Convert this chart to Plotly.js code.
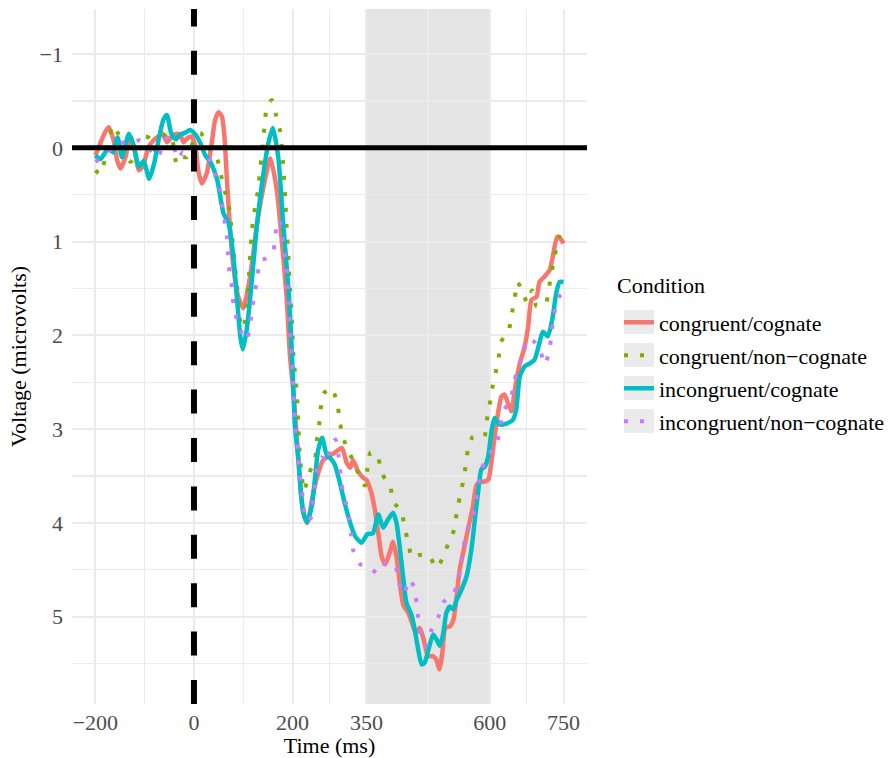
<!DOCTYPE html>
<html>
<head>
<meta charset="utf-8">
<script src="https://cdn.plot.ly/plotly-3.0.1.min.js"></script>
<style>
  html, body { margin: 0; padding: 0; background: #ffffff; }
  #erp { width: 893px; height: 758px; }
</style>
</head>
<body>
<div id="erp"></div>
<script>
// Grand-average ERP waveforms per condition (time in ms, amplitude in microvolts)
const conditionNames = ['congruent/cognate', 'congruent/non\u2212cognate', 'incongruent/cognate', 'incongruent/non\u2212cognate'];
const conditionColors = ['#F8766D', '#7CAE00', '#00BFC4', '#C77CFF'];

const timeCongCog = [-200,-190,-180,-173,-163,-156,-149,-139,-129,-120,-112,-104,-92,-82,-73,-64,-55,-45,-36,-28,-21,-14,-5,3,9,16,26,36,43,50,57,62,67,73,80,90,100,114,128,144,155,168,178,188,195,202,212,217,222,230,242,252,262,273,286,300,310,317,323,333,344,350,360,367,374,381,388,398,404,411,418,425,435,442,450,458,466,475,485,492,498,504,510,520,527,533,539,546,556,566,573,580,587,597,604,610,617,624,630,637,644,651,661,671,678,685,695,701,712,722,728,737,744,750];
const voltCongCog = [0.08,-0.05,-0.17,-0.22,-0.08,0.13,0.22,0.10,-0.12,0.04,0.24,0.20,-0.01,-0.08,-0.12,-0.15,-0.06,-0.12,-0.15,-0.14,-0.06,-0.10,-0.12,-0.01,0.25,0.38,0.27,-0.05,-0.30,-0.38,-0.33,-0.10,0.35,0.85,1.27,1.59,1.71,1.37,0.81,0.34,0.11,0.45,0.98,1.59,2.23,2.62,3.33,3.68,3.89,4.00,3.68,3.47,3.33,3.29,3.25,3.20,3.36,3.41,3.33,3.45,3.52,3.54,3.68,3.86,4.11,4.36,4.44,4.30,4.20,4.36,4.66,4.88,4.96,5.06,5.17,5.12,5.24,5.42,5.42,5.46,5.56,5.38,5.12,5.10,5.02,4.78,4.50,4.32,4.07,3.82,3.60,3.56,3.56,3.54,3.33,3.08,2.83,2.65,2.63,2.72,2.81,2.58,2.30,2.12,1.91,1.62,1.59,1.43,1.37,1.30,1.16,0.95,0.97,1.02];

const timeCongNon = [-200,-190,-182,-173,-164,-153,-141,-129,-115,-99,-90,-82,-70,-55,-45,-35,-25,-14,-3,13,26,36,46,53,60,70,74,80,90,96,101,106,111,117,121,126,131,134,138,141,144,148,158,167,175,181,185,188,192,195,199,202,205,209,212,215,218,223,234,246,249,254,257,263,278,290,296,302,313,328,339,347,352,358,366,374,382,398,404,421,427,435,442,450,459,476,492,504,516,528,533,539,546,551,556,566,589,594,600,605,612,618,623,639,645,651,656,666,676,686,695,714,720,726,732,741,750];
const voltCongNon = [0.24,0.28,0.15,-0.08,-0.24,-0.14,0.02,0.15,0.05,-0.12,-0.10,0.02,-0.05,-0.15,-0.11,0.17,0.10,0.10,-0.05,-0.16,-0.04,0.04,0.10,0.24,0.42,0.59,0.75,1.10,1.60,1.92,1.90,1.68,1.41,0.91,0.73,0.58,0.41,0.24,0.06,-0.11,-0.28,-0.44,-0.51,-0.34,-0.17,0.17,0.52,0.84,1.20,1.53,1.87,2.23,2.40,2.62,3.00,3.30,3.45,3.66,3.47,3.31,3.13,2.96,2.79,2.62,2.56,2.70,2.92,3.08,3.23,3.39,3.55,3.60,3.42,3.25,3.25,3.31,3.48,3.60,3.77,3.88,4.04,4.21,4.37,4.36,4.34,4.34,4.48,4.38,4.22,4.07,3.90,3.73,3.56,3.40,3.22,3.08,3.08,2.91,2.74,2.57,2.40,2.24,2.07,1.94,1.77,1.60,1.43,1.52,1.65,1.52,1.69,1.66,1.50,1.32,1.15,0.95,0.85];

const timeIncongCog = [-200,-190,-180,-172,-164,-155,-146,-132,-122,-112,-102,-91,-80,-72,-62,-55,-46,-37,-28,-18,-8,3,13,23,33,47,60,70,80,87,94,99,107,117,128,141,151,160,171,181,192,199,205,212,217,222,229,239,246,252,260,269,280,286,296,306,317,327,340,352,363,374,384,394,404,411,418,425,431,442,448,455,462,468,475,485,492,499,506,512,519,526,533,543,553,563,570,577,583,590,597,604,610,620,634,647,654,661,671,681,691,701,708,718,728,735,742,750];
const voltIncongCog = [0.08,0.12,0.05,0.00,0.05,-0.11,0.10,-0.15,-0.02,0.20,0.14,0.33,0.15,-0.08,-0.30,-0.35,-0.15,-0.09,-0.14,-0.16,-0.19,-0.14,-0.05,0.08,0.15,0.34,0.70,0.80,1.16,1.59,2.01,2.15,1.94,1.44,0.81,0.27,-0.05,-0.21,0.10,0.81,1.52,2.23,2.97,3.33,3.68,3.89,3.99,3.82,3.50,3.22,3.09,3.27,3.33,3.38,3.57,3.79,4.00,4.14,4.21,4.12,4.11,3.91,4.05,3.96,3.89,4.00,4.28,4.60,4.85,4.99,5.14,5.35,5.51,5.49,5.37,5.19,5.24,5.31,5.17,4.96,4.89,4.92,4.82,4.71,4.57,4.28,3.96,3.65,3.43,3.40,3.29,3.01,2.88,2.95,2.94,2.90,2.79,2.44,2.33,2.30,2.26,2.08,1.96,2.01,1.80,1.55,1.43,1.43];

const timeIncongNon = [-200,-187,-174,-164,-153,-130,-109,-90,-72,-64,-53,-40,-33,-23,-14,-3,10,22,33,43,53,58,63,67,69,72,77,80,87,97,107,114,118,124,129,134,146,160,165,169,174,178,183,187,189,192,195,199,202,205,209,212,215,219,222,229,239,242,246,250,259,269,277,287,293,300,308,315,319,323,337,356,373,388,408,415,425,438,448,452,456,461,470,481,496,507,526,537,542,547,553,566,572,577,583,597,614,621,626,641,649,656,668,675,691,703,712,722,725,730,735,742,750];
const voltIncongNon = [0.15,0.10,0.04,0.00,-0.05,-0.06,-0.08,0.02,0.10,-0.05,-0.11,0.00,0.12,0.05,0.10,0.12,0.15,0.13,0.13,0.29,0.45,0.63,0.81,0.96,1.14,1.32,1.48,1.66,1.83,1.98,2.05,1.87,1.71,1.53,1.36,1.20,1.18,1.12,0.95,0.77,0.80,0.92,1.09,1.23,1.43,1.62,1.94,2.28,2.63,2.97,3.13,3.31,3.49,3.65,3.82,3.98,3.93,3.76,3.59,3.41,3.30,3.36,3.19,3.11,3.27,3.60,3.78,3.95,4.12,4.29,4.44,4.47,4.54,4.43,4.45,4.62,4.76,4.60,4.71,4.87,5.05,5.22,5.31,5.15,5.00,4.84,4.76,4.60,4.43,4.26,4.09,3.94,3.77,3.60,3.43,3.28,3.16,2.99,2.83,2.69,2.53,2.35,2.21,2.04,2.07,2.17,2.31,2.15,1.98,1.82,1.65,1.58,1.55];

// Axis breaks and analysis window
const timeTicks = [-200, 0, 200, 350, 600, 750];
const timeMinorTicks = [-100, 100, 275, 475, 675];
const voltTicks = [-1, 0, 1, 2, 3, 4, 5];
const windowStart = 350;
const windowEnd = 600;

const serif = 'Liberation Serif, Times New Roman, serif';
const solidWidth = 4.5;
const dottedStyle = '4px,12px';

const seriesTimes = [timeCongCog, timeCongNon, timeIncongCog, timeIncongNon];
const seriesVolts = [voltCongCog, voltCongNon, voltIncongCog, voltIncongNon];
const seriesDash = ['solid', dottedStyle, 'solid', dottedStyle];

const traces = conditionNames.map((name, i) => ({
  type: 'scatter',
  mode: 'lines',
  name: name,
  legendgroup: 'g' + i,
  x: seriesTimes[i],
  y: seriesVolts[i],
  line: {
    color: conditionColors[i],
    width: seriesDash[i] === 'solid' ? solidWidth : 4,
    dash: seriesDash[i],
    shape: 'spline',
    smoothing: 0.6
  },
  hoverinfo: 'skip'
}));

// Plot box in pixels, used to place the legend title and key backgrounds
const W = 893, H = 758;
const M = { l: 72, r: 306, t: 9, b: 54, autoexpand: false };
const plotW = W - M.l - M.r;
const plotH = H - M.t - M.b;
const px2paperX = px => (px - M.l) / plotW;
const px2paperY = py => (H - M.b - py) / plotH;

const keyBoxes = [322, 355, 388, 421].map(cy => ({
  type: 'rect', xref: 'paper', yref: 'paper',
  x0: px2paperX(624), x1: px2paperX(654),
  y0: px2paperY(cy + 12), y1: px2paperY(cy - 12),
  fillcolor: '#EBEBEB', line: { width: 0 }, layer: 'below'
}));

const layout = {
  width: W,
  height: H,
  margin: M,
  paper_bgcolor: '#ffffff',
  plot_bgcolor: '#ffffff',
  font: { family: serif, size: 22, color: '#000000' },
  showlegend: true,
  legend: {
    font: { family: serif, size: 22, color: '#000000' },
    x: px2paperX(619),
    xanchor: 'left',
    y: px2paperY(301.5),
    yanchor: 'top',
    bgcolor: 'rgba(0,0,0,0)',
    borderwidth: 0,
    traceorder: 'grouped',
    tracegroupgap: 1.4,
    itemwidth: 30
  },
  annotations: [
    { text: 'Condition', xref: 'paper', yref: 'paper', x: px2paperX(615), y: px2paperY(285),
      xanchor: 'left', yanchor: 'middle', showarrow: false,
      font: { family: serif, size: 22, color: '#000000' } }
  ],
  xaxis: {
    range: [-247.5, 797.5],
    tickmode: 'array',
    tickvals: timeTicks,
    ticktext: timeTicks.map(v => (v < 0 ? '\u2212' : '') + Math.abs(v)),
    ticks: '',
    ticklabelstandoff: 3,
    showline: false,
    zeroline: false,
    showgrid: true,
    gridcolor: '#EBEBEB',
    gridwidth: 2,
    minor: { tickmode: 'array', tickvals: timeMinorTicks, showgrid: true, gridcolor: '#EBEBEB', gridwidth: 1.2, ticks: '' },
    tickfont: { family: serif, size: 22, color: '#4D4D4D' },
    title: { text: 'Time (ms)', font: { family: serif, size: 22, color: '#000000' }, standoff: 4 },
    automargin: false,
    fixedrange: true
  },
  yaxis: {
    range: [5.93, -1.48],
    tickmode: 'array',
    tickvals: voltTicks,
    ticktext: voltTicks.map(v => (v < 0 ? '\u2212' : '') + Math.abs(v)),
    ticks: '',
    ticklabelstandoff: 8,
    showline: false,
    zeroline: false,
    showgrid: true,
    gridcolor: '#EBEBEB',
    gridwidth: 2,
    minor: { tick0: 0.5, dtick: 1, showgrid: true, gridcolor: '#EBEBEB', gridwidth: 1.2, ticks: '' },
    tickfont: { family: serif, size: 22, color: '#4D4D4D' },
    title: { text: 'Voltage (microvolts)', font: { family: serif, size: 22, color: '#000000' }, standoff: 6 },
    automargin: false,
    fixedrange: true
  },
  shapes: [
    // analysis window
    { type: 'rect', xref: 'x', yref: 'paper', x0: windowStart, x1: windowEnd, y0: 0, y1: 1,
      fillcolor: '#E4E4E4', line: { width: 0 }, layer: 'between' },
    // baseline at 0 microvolts
    { type: 'line', xref: 'paper', yref: 'y', x0: 0, x1: 1, y0: 0, y1: 0,
      line: { color: '#000000', width: 5 }, layer: 'above' },
    // stimulus onset
    { type: 'line', xref: 'x', yref: 'paper', x0: 0, x1: 0, y0: 0, y1: 1,
      line: { color: '#000000', width: 6, dash: '24px,24.4px' }, layer: 'above' }
  ].concat(keyBoxes)
};

Plotly.newPlot('erp', traces, layout, { displayModeBar: false, staticPlot: true });
</script>
</body>
</html>
